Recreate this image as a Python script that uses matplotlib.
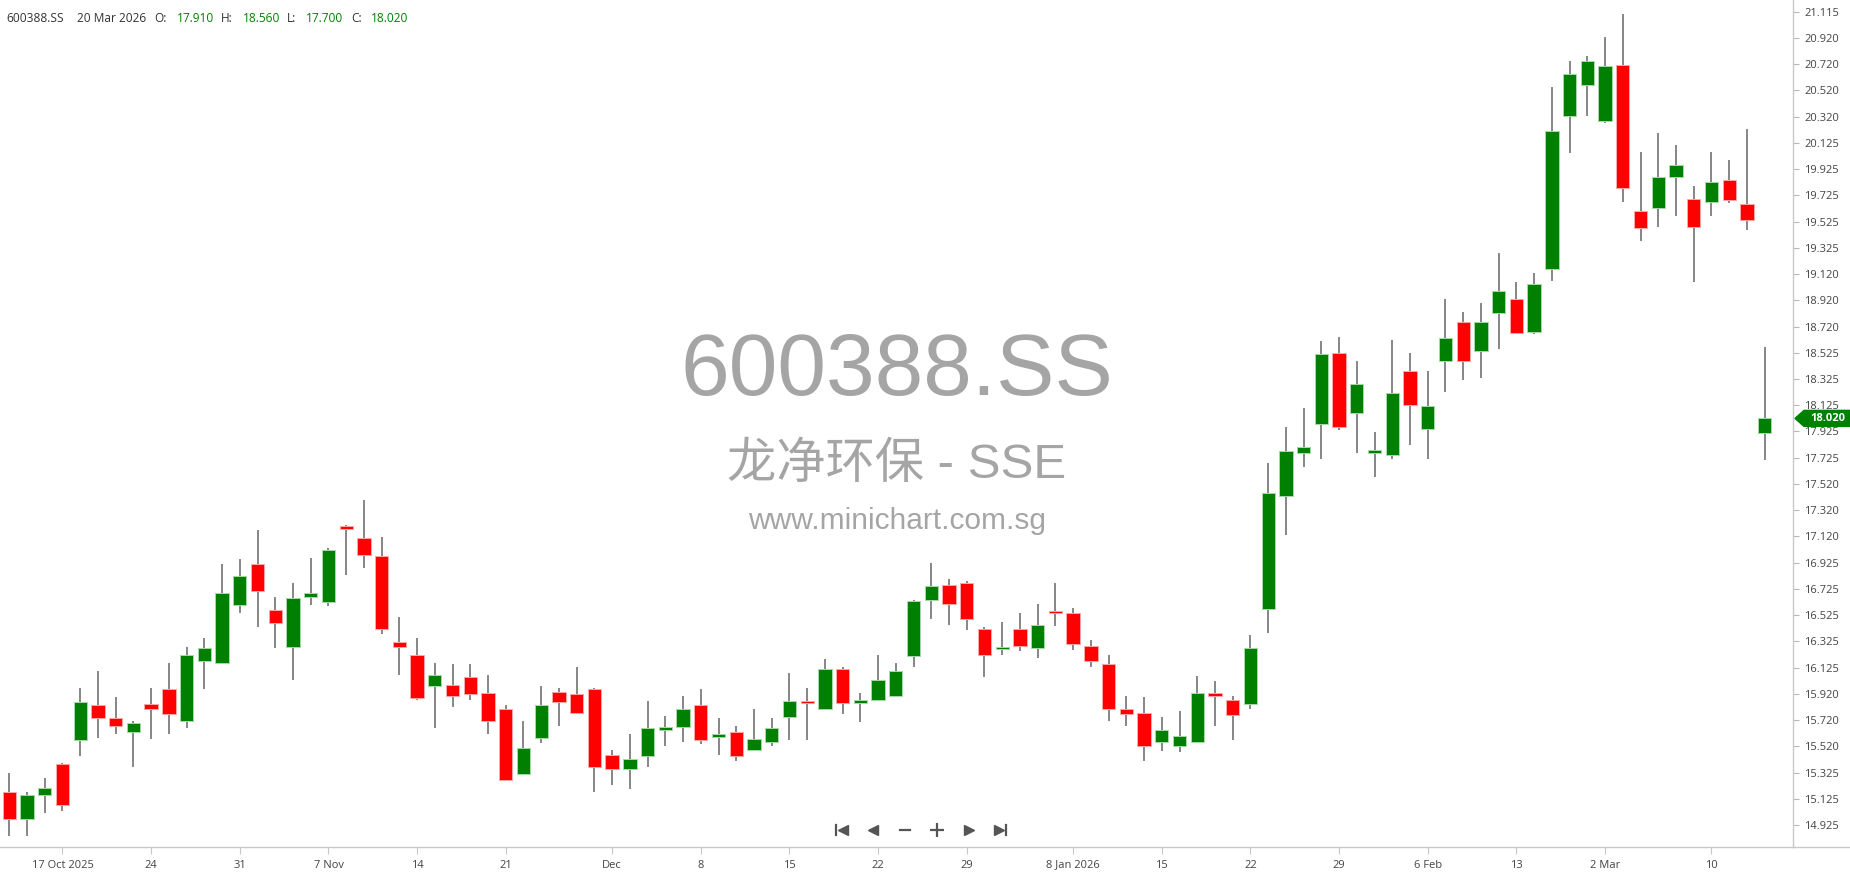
import numpy as np
import matplotlib
matplotlib.use('Agg')
import matplotlib.pyplot as plt
from matplotlib.patches import Polygon

# 600388.SS daily candles, 14 Oct 2025 - 20 Mar 2026
opens = [15.18, 14.97, 15.15, 15.39, 15.57, 15.84, 15.74, 15.63, 15.85, 15.96,
         15.72, 16.17, 16.16, 16.60, 16.91, 16.56, 16.28, 16.66, 16.62, 17.20,
         17.11, 16.97, 16.32, 16.22, 15.98, 15.99, 16.05, 15.93, 15.81, 15.31,
         15.59, 15.935, 15.92, 15.96, 15.46, 15.35, 15.45, 15.655, 15.67, 15.84,
         15.60, 15.63, 15.50, 15.56, 15.75, 15.87, 15.81, 16.11, 15.855, 15.88,
         15.91, 16.21, 16.64, 16.755, 16.765, 16.42, 16.265, 16.415, 16.27, 16.555,
         16.54, 16.29, 16.15, 15.805, 15.775, 15.56, 15.53, 15.56, 15.93, 15.88,
         15.85, 16.57, 17.43, 17.755, 17.98, 18.52, 18.06, 17.765, 17.74, 18.38,
         17.94, 18.46, 18.755, 18.53, 18.82, 18.93, 18.68, 19.155, 20.32, 20.56,
         20.28, 20.71, 19.60, 19.62, 19.86, 19.69, 19.67, 19.835, 19.655, 17.91]
highs = [15.32, 15.18, 15.28, 15.40, 15.97, 16.10, 15.90, 15.72, 15.97, 16.16,
         16.28, 16.35, 16.91, 16.95, 17.17, 16.66, 16.77, 16.955, 17.03, 17.205,
         17.40, 17.12, 16.51, 16.35, 16.16, 16.15, 16.15, 16.07, 15.84, 15.72,
         15.98, 15.97, 16.13, 15.97, 15.50, 15.62, 15.87, 15.755, 15.91, 15.96,
         15.74, 15.68, 15.81, 15.74, 16.08, 15.97, 16.19, 16.13, 15.93, 16.22,
         16.16, 16.64, 16.92, 16.80, 16.78, 16.43, 16.47, 16.54, 16.605, 16.765,
         16.575, 16.33, 16.22, 15.91, 15.90, 15.75, 15.79, 16.06, 16.02, 15.91,
         16.375, 17.68, 17.955, 18.10, 18.61, 18.64, 18.46, 17.92, 18.62, 18.52,
         18.38, 18.93, 18.83, 18.90, 19.28, 19.06, 19.13, 20.54, 20.74, 20.775,
         20.92, 21.10, 20.045, 20.19, 20.10, 19.79, 20.045, 19.99, 20.225, 18.56]
lows = [14.84, 14.84, 15.02, 15.03, 15.45, 15.59, 15.62, 15.37, 15.58, 15.62,
        15.66, 15.96, 16.15, 16.54, 16.43, 16.27, 16.03, 16.60, 16.59, 16.83,
        16.88, 16.38, 16.07, 15.88, 15.66, 15.82, 15.88, 15.62, 15.26, 15.31,
        15.55, 15.68, 15.77, 15.18, 15.23, 15.20, 15.37, 15.53, 15.56, 15.54,
        15.46, 15.41, 15.50, 15.53, 15.57, 15.57, 15.80, 15.77, 15.71, 15.88,
        15.91, 16.13, 16.49, 16.45, 16.41, 16.055, 16.22, 16.25, 16.20, 16.44,
        16.255, 16.13, 15.72, 15.68, 15.415, 15.49, 15.48, 15.56, 15.68, 15.57,
        15.81, 16.385, 17.13, 17.65, 17.71, 17.93, 17.76, 17.575, 17.71, 17.82,
        17.71, 18.22, 18.31, 18.325, 18.55, 18.66, 18.66, 19.065, 20.04, 20.32,
        20.265, 19.67, 19.37, 19.48, 19.56, 19.055, 19.56, 19.66, 19.45, 17.70]
closes = [14.97, 15.15, 15.21, 15.08, 15.86, 15.74, 15.68, 15.70, 15.81, 15.77,
          16.22, 16.27, 16.69, 16.82, 16.71, 16.46, 16.65, 16.69, 17.02, 17.18,
          16.98, 16.42, 16.28, 15.89, 16.07, 15.91, 15.92, 15.72, 15.27, 15.51,
          15.84, 15.865, 15.78, 15.37, 15.35, 15.43, 15.66, 15.66, 15.81, 15.57,
          15.61, 15.45, 15.58, 15.66, 15.87, 15.855, 16.11, 15.855, 15.88, 16.03,
          16.10, 16.63, 16.745, 16.61, 16.49, 16.22, 16.28, 16.29, 16.45, 16.54,
          16.30, 16.17, 15.81, 15.77, 15.53, 15.645, 15.605, 15.93, 15.91, 15.76,
          16.27, 17.45, 17.77, 17.80, 18.51, 17.955, 18.285, 17.77, 18.21, 18.12,
          18.115, 18.63, 18.46, 18.75, 18.99, 18.67, 19.04, 20.205, 20.64, 20.74,
          20.70, 19.77, 19.47, 19.86, 19.95, 19.48, 19.82, 19.685, 19.53, 18.02]

tick_pos = [3, 8, 13, 18, 23, 28, 34, 39, 44, 49, 54, 60, 65, 70, 75, 80, 85, 90, 96]
tick_labels = ['17 Oct 2025', '24', '31', '7 Nov', '14', '21', 'Dec', '8', '15', '22',
               '29', '8 Jan 2026', '15', '22', '29', '6 Feb', '13', '2 Mar', '10']

price_labels = ['14.925', '15.125', '15.325', '15.520', '15.720', '15.920', '16.125', '16.325',
                '16.525', '16.725', '16.925', '17.120', '17.320', '17.520', '17.725', '17.925',
                '18.125', '18.325', '18.525', '18.720', '18.920', '19.120', '19.325', '19.525',
                '19.725', '19.925', '20.125', '20.320', '20.520', '20.720', '20.920', '21.115']

ticker = '600388.SS'
last_date = '20 Mar 2026'
name_line = '龙净环保 - SSE'
site = 'www.minichart.com.sg'

W, H = 1850, 874
fig = plt.figure(figsize=(W / 100, H / 100), dpi=100)
fig.patch.set_facecolor('white')

# background layer in pixel coords (watermark)
bg = fig.add_axes([0, 0, 1, 1], zorder=0)
bg.set_xlim(0, W)
bg.set_ylim(H, 0)
bg.axis('off')

wm = '#a5a5a5'
bg.text(897, 372, ticker, fontsize=63, color=wm, ha='center', va='center',
        family=['Liberation Sans', 'DejaVu Sans'])
bg.text(897, 465, name_line, fontsize=35.5, color=wm, ha='center', va='center',
        family=['Liberation Sans', 'Noto Sans CJK SC'])
bg.text(897, 521, site, fontsize=21.5, color=wm, ha='center', va='center',
        family=['Liberation Sans', 'DejaVu Sans'])

# main chart
ax = fig.add_axes([0, (H - 847) / H, 1793 / W, 847 / H], zorder=1)
ax.set_facecolor('none')

x = np.arange(len(opens))
o = np.array(opens)
c = np.array(closes)
up = c >= o
col = np.where(up, '#008000', '#ff0000')
edge = np.where(up, '#a6d9a6', '#ffa6a6')

ax.vlines(x, lows, highs, color='#666666', lw=1.1, zorder=2)
min_h = 0.02
diff = np.abs(c - o)
body_h = np.maximum(diff, min_h)
body_lo = np.where(diff < min_h, (o + c) / 2 - min_h / 2, np.minimum(o, c))
ax.bar(x, body_h, bottom=body_lo, width=0.75, color=col, edgecolor=edge,
       linewidth=0.7, zorder=3)

ax.set_xlim(-0.5245, 100.6)
ax.set_ylim(14.758, 21.204)

ax.yaxis.tick_right()
ax.set_yticks(np.linspace(14.925, 21.115, len(price_labels)))
ax.set_yticklabels(price_labels)
ax.set_xticks(tick_pos)
ax.set_xticklabels(tick_labels)

for s in ['top', 'left']:
    ax.spines[s].set_visible(False)
for s in ['right', 'bottom']:
    ax.spines[s].set_color('#c8c8c8')
    ax.spines[s].set_linewidth(1.0)

ax.tick_params(axis='y', length=4, color='#b8b8b8', pad=4, labelsize=8,
               labelcolor='#444444')
ax.tick_params(axis='x', length=5, color='#c8c8c8', pad=4, labelsize=8,
               labelcolor='#444444')
for lab in ax.get_xticklabels() + ax.get_yticklabels():
    lab.set_family('Open Sans')

# foreground layer in pixel coords
fg = fig.add_axes([0, 0, 1, 1], zorder=2)
fg.set_xlim(0, W)
fg.set_ylim(H, 0)
fg.axis('off')

# bottom line runs on under the price scale
fg.plot([1793, W], [847, 847], color='#c8c8c8', lw=1.0)

# last price tag
yp = 11.7 + 131.4 * (21.115 - closes[-1])
fg.add_patch(Polygon([(1795, yp), (1804, yp - 8), (W, yp - 8), (W, yp + 8), (1804, yp + 8)],
                     closed=True, color='#008000', zorder=5))
fg.text(1828, yp, '%.3f' % closes[-1], color='white', fontsize=8, ha='center',
        va='center', family='Open Sans', fontweight='bold', zorder=6)

# header line
hdr_y = 18
fg.text(6, hdr_y, ticker, fontsize=8.6, color='#333333', va='center', family='Open Sans')
fg.text(77, hdr_y, last_date, fontsize=8.6, color='#333333', va='center', family='Open Sans')
hdr = [('O:', 154, 176.5, opens[-1]), ('H:', 221, 242.5, highs[-1]),
       ('L:', 287, 306, lows[-1]), ('C:', 351, 371, closes[-1])]
for k, kx, vx, v in hdr:
    fg.text(kx, hdr_y, k, fontsize=8.6, color='#333333', va='center', family='Open Sans')
    fg.text(vx, hdr_y, '%.3f' % v, fontsize=8.6, color='#008000', va='center',
            family='Open Sans')

# navigation buttons
nav = '#555555'
ny = 830
fg.plot([836, 836], [825, 835], color=nav, lw=1.6)
fg.plot(843, ny, marker='<', ms=7, color=nav)
fg.plot(873, ny, marker='<', ms=7, color=nav)
fg.plot([900, 910], [ny, ny], color=nav, lw=1.6)
fg.plot(937, ny, marker='+', ms=10, mew=1.6, color=nav)
fg.plot(969, ny, marker='>', ms=7, color=nav)
fg.plot(999, ny, marker='>', ms=7, color=nav)
fg.plot([1006, 1006], [825, 835], color=nav, lw=1.6)

fig.savefig('out.png', dpi=100)
